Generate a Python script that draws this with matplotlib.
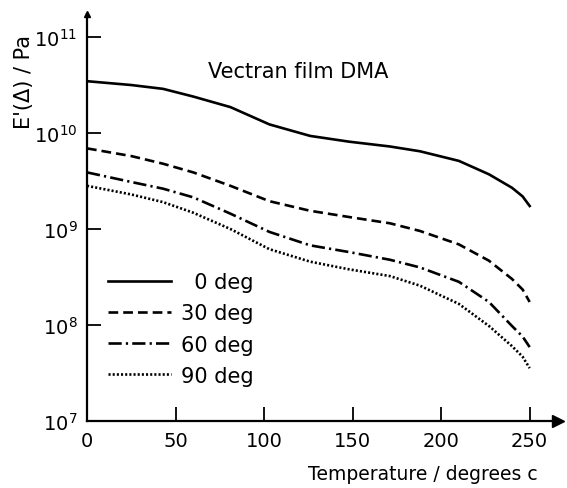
import numpy as np
import matplotlib
matplotlib.use("Agg")
import matplotlib.pyplot as plt

# temperature (deg C) and log10 of E' (Pa)
temp = [0, 25, 43, 60, 81, 103, 126, 148, 171, 188, 210, 227, 240, 246, 250]
log_e_0 = [10.54, 10.50, 10.46, 10.38, 10.27, 10.09, 9.97, 9.91, 9.86, 9.81, 9.71, 9.57, 9.43, 9.34, 9.24]
log_e_30 = [9.84, 9.76, 9.68, 9.59, 9.45, 9.29, 9.19, 9.125, 9.06, 8.98, 8.84, 8.67, 8.48, 8.37, 8.24]
log_e_60 = [9.59, 9.49, 9.42, 9.33, 9.16, 8.97, 8.83, 8.76, 8.68, 8.60, 8.45, 8.24, 7.99, 7.88, 7.77]
log_e_90 = [9.45, 9.36, 9.28, 9.17, 9.00, 8.79, 8.66, 8.58, 8.51, 8.41, 8.22, 7.99, 7.78, 7.67, 7.55]
labels = ['  0 deg', '30 deg', '60 deg', '90 deg']
x_ticks = [0, 50, 100, 150, 200, 250]
y_ticks = [1e7, 1e8, 1e9, 1e10, 1e11]

plt.rcParams['font.family'] = ['DejaVu Sans']
plt.rcParams['lines.scale_dashes'] = False

fig = plt.figure(figsize=(5.67, 4.89), dpi=100)
ax = fig.add_axes([87/567, 67/489, 471/567, 407/489])

styles = ['-', (0, (7, 3.6)), (0, (9.5, 3, 1.6, 3)), (0, (1.5, 1.5))]
series = [log_e_0, log_e_30, log_e_60, log_e_90]
for vals, ls, lab in zip(series, styles, labels):
    ax.plot(temp, 10**np.array(vals), color='black', lw=1.9, ls=ls, label=lab)

ax.set_yscale('log')
ax.set_xlim(0, 266)
ax.set_ylim(1e7, 10**11.24)
ax.set_xticks(x_ticks)
ax.set_yticks(y_ticks)
ax.yaxis.set_minor_locator(matplotlib.ticker.NullLocator())
ax.tick_params(direction='in', length=10, width=1.3, labelsize=14, pad=7)

for s in ['top', 'right']:
    ax.spines[s].set_visible(False)
for s in ['left', 'bottom']:
    ax.spines[s].set_linewidth(1.6)

# arrow heads on the axes
ax.plot(1, 0, '>k', ms=9, transform=ax.transAxes, clip_on=False)
ax.plot(0, 1, '^k', ms=4, transform=ax.transAxes, clip_on=False)

leg = ax.legend(loc='upper left', bbox_to_anchor=(108/567, 1 - 273/489),
                bbox_transform=fig.transFigure, frameon=False, fontsize=15,
                handlelength=3.0, handletextpad=0.5, labelspacing=0.54,
                borderpad=0, borderaxespad=0)

fig.text(208/567, 1 - 72/489, 'Vectran film DMA', fontsize=15, va='center', ha='left')
fig.text(308/567, 1 - 475/489, 'Temperature / degrees c', fontsize=13.5, va='center', ha='left')
fig.text(24/567, 1 - 35/489, "E'(Δ) / Pa", fontsize=15, rotation=90, va='top', ha='center')

fig.savefig('out.png', dpi=100)
